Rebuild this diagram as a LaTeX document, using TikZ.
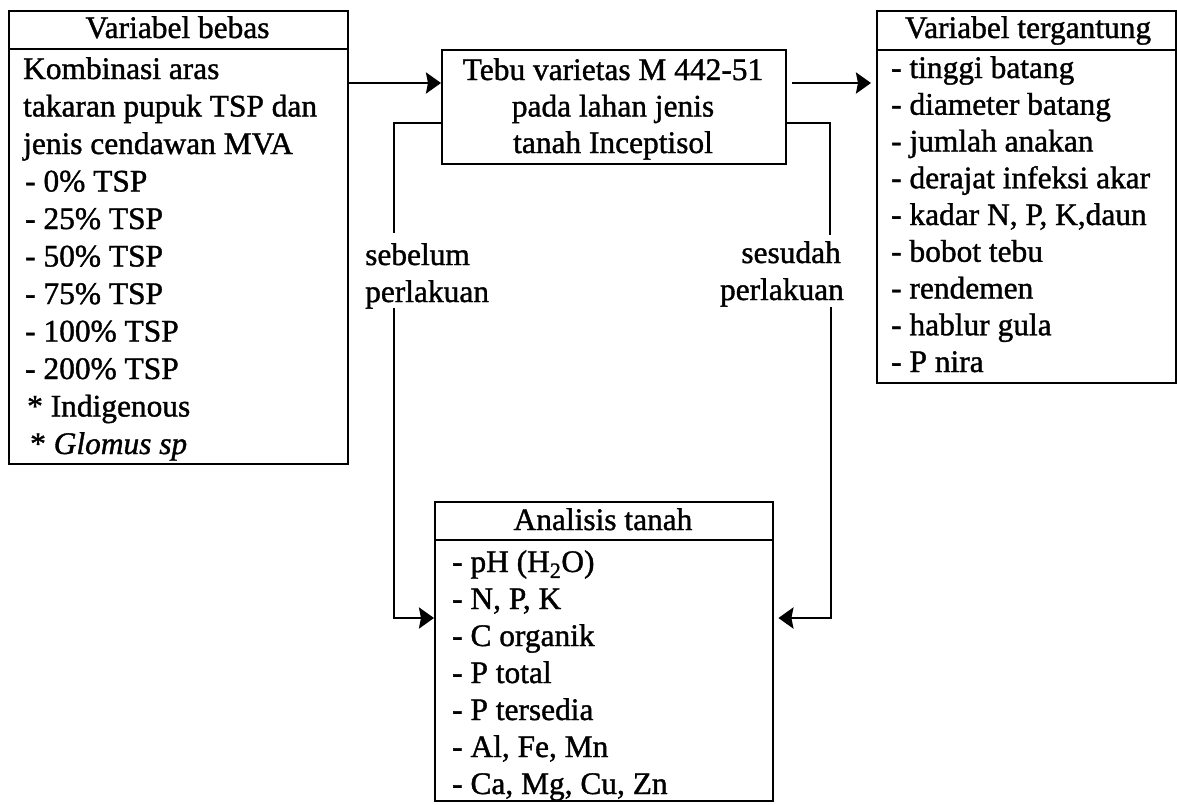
\documentclass[tikz,border=0pt]{standalone}
\usepackage{fontspec}
\setmainfont{Liberation Serif}[UprightFeatures={FakeBold=1.2},ItalicFeatures={FakeBold=1.2}]
\usetikzlibrary{arrows.meta,calc}
\begin{document}
\begin{tikzpicture}[x=1pt,y=-1pt,
  vbox/.style={draw, line width=2.4pt, inner sep=0pt, anchor=north west},
  hline/.style={line width=2.4pt},
  head/.style={inner sep=0pt, anchor=base, font=\fontsize{31.4}{37}\selectfont},
  entry/.style={inner sep=0pt, anchor=base west, font=\fontsize{31.4}{37}\selectfont},
  lbl/.style={inner sep=0pt, font=\fontsize{31.4}{37}\selectfont},
  link/.style={line width=2.8pt},
  arr/.style={link, -{Stealth[length=15pt,width=21pt,inset=2pt]}}]

\useasboundingbox (0,0) rectangle (1177,804);
\fill[white] (0,0) rectangle (1177,804);

% boxes
\node[vbox, minimum width=339pt, minimum height=453pt] (bebas) at (8,10) {};
\node[vbox, minimum width=344pt, minimum height=114pt] (tebu) at (441,49) {};
\node[vbox, minimum width=299pt, minimum height=372pt] (terg) at (876,10) {};
\node[vbox, minimum width=338pt, minimum height=299pt] (tanah) at (434,501) {};

% header rules
\draw[hline] (bebas.west |- 0,49) -- (bebas.east |- 0,49);
\draw[hline] (terg.west |- 0,50) -- (terg.east |- 0,50);
\draw[hline] (tanah.west |- 0,540) -- (tanah.east |- 0,540);

% independent variables
\node[head] (hbebas) at (177.5,38) {Variabel bebas};
\node[entry] (b1) at (23,79) {Kombinasi aras};
\node[entry] (b2) at (23,116.5) {takaran pupuk TSP dan};
\node[entry] (b3) at (23,154) {jenis cendawan MVA};
\node[entry] (b4) at (25,191.5) {- 0\% TSP};
\node[entry] (b5) at (25,229) {- 25\% TSP};
\node[entry] (b6) at (25,266.5) {- 50\% TSP};
\node[entry] (b7) at (25,304) {- 75\% TSP};
\node[entry] (b8) at (25,341.5) {- 100\% TSP};
\node[entry] (b9) at (25,379) {- 200\% TSP};
\node[entry] (b10) at (27,416.5) {* Indigenous};
\node[entry] (b11) at (30,454) {* \textit{Glomus sp}};

% treatment object
\node[head] (t1) at (613,80) {Tebu varietas M 442-51};
\node[head] (t2) at (613,116.5) {pada lahan jenis};
\node[head] (t3) at (613,153) {tanah Inceptisol};

% dependent variables
\node[head] (hterg) at (1028,38) {Variabel tergantung};
\node[entry] (d1) at (891,78) {- tinggi batang};
\node[entry] (d2) at (891,114.75) {- diameter batang};
\node[entry] (d3) at (891,151.5) {- jumlah anakan};
\node[entry] (d4) at (891,188.25) {- derajat infeksi akar};
\node[entry] (d5) at (891,225) {- kadar N, P, K,daun};
\node[entry] (d6) at (891,261.75) {- bobot tebu};
\node[entry] (d7) at (891,298.5) {- rendemen};
\node[entry] (d8) at (891,335.25) {- hablur gula};
\node[entry] (d9) at (891,372) {- P nira};

% soil analysis
\node[head] (htanah) at (603,530) {Analisis tanah};
\node[entry] (s1) at (452,572) {- pH (H\textsubscript{2}O)};
\node[entry] (s2) at (452,609) {- N, P, K};
\node[entry] (s3) at (452,646) {- C organik};
\node[entry] (s4) at (452,683) {- P total};
\node[entry] (s5) at (452,720) {- P tersedia};
\node[entry] (s6) at (452,757) {- Al, Fe, Mn};
\node[entry] (s7) at (452,794) {- Ca, Mg, Cu, Zn};

% connector labels
\node[lbl, anchor=base west] (pre1) at (365,265) {sebelum};
\node[lbl, anchor=base west] (pre2) at (365,302) {perlakuan};
\node[lbl, anchor=base east] (post1) at (841,263) {sesudah};
\node[lbl, anchor=base east] (post2) at (844,300) {perlakuan};

% bend points of the connectors
\coordinate (ya) at (0,83);
\coordinate (yb) at (0,123);
\coordinate (preTop) at (394,123);
\coordinate (preEnd) at (394,233);
\coordinate (preStart) at (394,308);
\coordinate (preLow) at (394,618);
\coordinate (postTop) at (830,123);
\coordinate (postEnd) at (830,235);
\coordinate (postStart) at (831,307);
\coordinate (postLow) at (831,618);

% flow arrows
\draw[arr] (bebas.east |- ya) -- (tebu.west |- ya);
\draw[arr, shorten <=5pt, shorten >=5pt] (tebu.east |- ya) -- (terg.west |- ya);

\draw[link] (tebu.west |- yb) -- (preTop) -- (preEnd);
\draw[arr] (preStart) -- (preLow) -- (tanah.west |- preLow);

\draw[link] (tebu.east |- yb) -- (postTop) -- (postEnd);
\draw[arr, shorten >=4pt] (postStart) -- (postLow) -- (tanah.east |- postLow);
\end{tikzpicture}
\end{document}
